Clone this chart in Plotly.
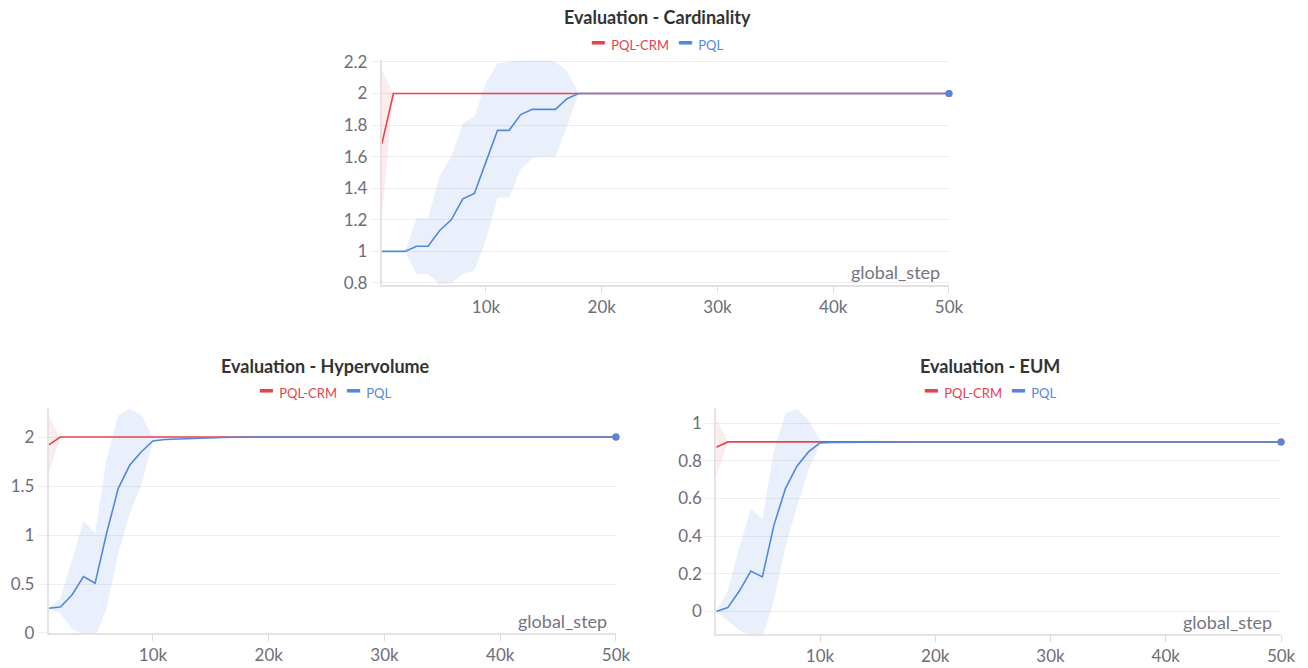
import plotly.graph_objects as go

# ---------------- data ----------------
steps = [1000, 2000, 3000, 4000, 5000, 6000, 7000, 8000, 9000, 10000,
         11000, 12000, 13000, 14000, 15000, 16000, 17000, 18000, 19000, 20000, 50000]

x_tickvals = [10000, 20000, 30000, 40000, 50000]
x_ticktext = ["10k", "20k", "30k", "40k", "50k"]

# Cardinality
crm_card = [1.68, 2, 2, 2, 2, 2, 2, 2, 2, 2, 2, 2, 2, 2, 2, 2, 2, 2, 2, 2, 2]
crm_card_hi = [2.15, 2, 2, 2, 2, 2, 2, 2, 2, 2, 2, 2, 2, 2, 2, 2, 2, 2, 2, 2, 2]
crm_card_lo = [1.21, 2, 2, 2, 2, 2, 2, 2, 2, 2, 2, 2, 2, 2, 2, 2, 2, 2, 2, 2, 2]
pql_card = [1.0, 1.0, 1.0, 1.033, 1.033, 1.133, 1.2, 1.333, 1.367, 1.567,
            1.767, 1.767, 1.867, 1.9, 1.9, 1.9, 1.967, 2.0, 2.0, 2.0, 2.0]
pql_card_hi = [1.0, 1.0, 1.0, 1.21, 1.21, 1.48, 1.6, 1.81, 1.856, 2.07,
               2.19, 2.2, 2.22, 2.23, 2.23, 2.2, 2.145, 2.0, 2.0, 2.0, 2.0]
pql_card_lo = [1.0, 1.0, 1.0, 0.855, 0.855, 0.79, 0.8, 0.855, 0.88, 1.07,
               1.34, 1.34, 1.52, 1.59, 1.6, 1.6, 1.79, 2.0, 2.0, 2.0, 2.0]
card_tickvals = [0.8, 1.0, 1.2, 1.4, 1.6, 1.8, 2.0, 2.2]
card_ticktext = ["0.8", "1", "1.2", "1.4", "1.6", "1.8", "2", "2.2"]

# Hypervolume
crm_hv = [1.92, 2, 2, 2, 2, 2, 2, 2, 2, 2, 2, 2, 2, 2, 2, 2, 2, 2, 2, 2, 2]
crm_hv_hi = [2.21, 2, 2, 2, 2, 2, 2, 2, 2, 2, 2, 2, 2, 2, 2, 2, 2, 2, 2, 2, 2]
crm_hv_lo = [1.63, 2, 2, 2, 2, 2, 2, 2, 2, 2, 2, 2, 2, 2, 2, 2, 2, 2, 2, 2, 2]
pql_hv = [0.252, 0.265, 0.388, 0.575, 0.507, 1.02, 1.476, 1.714, 1.85, 1.959,
          1.975, 1.98, 1.985, 1.99, 1.993, 1.995, 1.997, 1.998, 1.999, 2.0, 2.0]
pql_hv_hi = [0.252, 0.354, 0.745, 1.146, 1.017, 1.78, 2.22, 2.29, 2.22, 2.0,
             1.985, 1.985, 1.99, 1.993, 1.995, 1.997, 1.998, 1.999, 2.0, 2.0, 2.0]
pql_hv_lo = [0.252, 0.2, 0.04, -0.02, -0.05, 0.25, 0.81, 1.22, 1.51, 1.95,
             1.965, 1.975, 1.98, 1.987, 1.991, 1.993, 1.996, 1.997, 1.998, 2.0, 2.0]
hv_tickvals = [0, 0.5, 1.0, 1.5, 2.0]
hv_ticktext = ["0", "0.5", "1", "1.5", "2"]

# EUM
crm_eum = [0.871, 0.9, 0.9, 0.9, 0.9, 0.9, 0.9, 0.9, 0.9, 0.9, 0.9,
           0.9, 0.9, 0.9, 0.9, 0.9, 0.9, 0.9, 0.9, 0.9, 0.9]
crm_eum_hi = [1.02, 0.9, 0.9, 0.9, 0.9, 0.9, 0.9, 0.9, 0.9, 0.9, 0.9,
              0.9, 0.9, 0.9, 0.9, 0.9, 0.9, 0.9, 0.9, 0.9, 0.9]
crm_eum_lo = [0.714, 0.9, 0.9, 0.9, 0.9, 0.9, 0.9, 0.9, 0.9, 0.9, 0.9,
              0.9, 0.9, 0.9, 0.9, 0.9, 0.9, 0.9, 0.9, 0.9, 0.9]
pql_eum = [0.0, 0.02, 0.108, 0.214, 0.183, 0.457, 0.652, 0.771, 0.847, 0.895,
           0.897, 0.898, 0.899, 0.899, 0.9, 0.9, 0.9, 0.9, 0.9, 0.9, 0.9]
pql_eum_hi = [0.0, 0.11, 0.342, 0.546, 0.489, 0.856, 1.05, 1.078, 1.016, 0.91,
              0.9, 0.9, 0.9, 0.9, 0.9, 0.9, 0.9, 0.9, 0.9, 0.9, 0.9]
pql_eum_lo = [0.0, -0.048, -0.1, -0.13, -0.14, 0.058, 0.342, 0.555, 0.75, 0.89,
              0.894, 0.896, 0.898, 0.898, 0.9, 0.9, 0.9, 0.9, 0.9, 0.9, 0.9]
eum_tickvals = [0, 0.2, 0.4, 0.6, 0.8, 1.0]
eum_ticktext = ["0", "0.2", "0.4", "0.6", "0.8", "1"]

titles = ["Evaluation - Cardinality", "Evaluation - Hypervolume", "Evaluation - EUM"]
series_names = ["PQL-CRM", "PQL"]

# ---------------- style ----------------
RED = "#e8414f"
BLUE = "#5287e0"
RED_FILL = "rgba(232,65,79,0.10)"
BLUE_FILL = "rgba(82,135,224,0.12)"
FONT = "Lato"
TICK_COLOR = "#6e6e78"
GRID = "#efefef"
AXLINE = "#e3e3e3"

fig = go.Figure()

panels = [
    dict(xa="x", ya="y", crm=(crm_card, crm_card_hi, crm_card_lo),
         pql=(pql_card, pql_card_hi, pql_card_lo)),
    dict(xa="x2", ya="y2", crm=(crm_hv, crm_hv_hi, crm_hv_lo),
         pql=(pql_hv, pql_hv_hi, pql_hv_lo)),
    dict(xa="x3", ya="y3", crm=(crm_eum, crm_eum_hi, crm_eum_lo),
         pql=(pql_eum, pql_eum_hi, pql_eum_lo)),
]

for p in panels:
    for (mean, hi, lo), fill in ((p["crm"], RED_FILL), (p["pql"], BLUE_FILL)):
        fig.add_trace(go.Scatter(x=steps, y=hi, mode="lines", line=dict(width=0),
                                 xaxis=p["xa"], yaxis=p["ya"], showlegend=False,
                                 hoverinfo="skip"))
        fig.add_trace(go.Scatter(x=steps, y=lo, mode="lines", line=dict(width=0),
                                 fill="tonexty", fillcolor=fill,
                                 xaxis=p["xa"], yaxis=p["ya"], showlegend=False,
                                 hoverinfo="skip"))
    for (mean, hi, lo), col, nm in ((p["crm"], RED, series_names[0]),
                                     (p["pql"], BLUE, series_names[1])):
        fig.add_trace(go.Scatter(x=steps, y=mean, mode="lines", name=nm,
                                 line=dict(color=col, width=1.6),
                                 xaxis=p["xa"], yaxis=p["ya"], showlegend=False))
        fig.add_trace(go.Scatter(x=steps[-1:], y=mean[-1:], mode="markers",
                                 marker=dict(color=col, size=7), cliponaxis=False,
                                 xaxis=p["xa"], yaxis=p["ya"], showlegend=False,
                                 hoverinfo="skip"))

xdomains = [[0.2919, 0.7255], [0.0373, 0.4709], [0.5476, 0.9794]]
ydomains = [[0.5740, 0.9096], [0.0524, 0.3892], [0.0509, 0.3892]]
yranges = [[0.79, 2.21], [0.0, 2.296], [-0.12, 1.08]]
ytv = [(card_tickvals, card_ticktext), (hv_tickvals, hv_ticktext), (eum_tickvals, eum_ticktext)]

layout = dict(
    width=1308, height=668,
    margin=dict(l=0, r=0, t=0, b=0, autoexpand=False),
    paper_bgcolor="white", plot_bgcolor="white",
    font=dict(family=FONT, color=TICK_COLOR),
    showlegend=False,
)
for i in range(3):
    sfx = "" if i == 0 else str(i + 1)
    layout["xaxis" + sfx] = dict(
        domain=xdomains[i], anchor="y" + sfx, range=[1000, 50000],
        tickvals=x_tickvals, ticktext=x_ticktext,
        showgrid=False, zeroline=False, showline=True, linecolor=AXLINE, linewidth=2,
        ticks="outside", ticklen=6, tickcolor="#dcdcdc", tickwidth=1,
        tickfont=dict(size=17, color=TICK_COLOR, family=FONT),
    )
    layout["yaxis" + sfx] = dict(
        domain=ydomains[i], anchor="x" + sfx, range=yranges[i],
        tickvals=ytv[i][0], ticktext=ytv[i][1],
        showgrid=True, gridcolor=GRID, gridwidth=1, zeroline=False,
        showline=True, linecolor=AXLINE, linewidth=2,
        ticks="outside", ticklen=9, tickcolor=GRID, tickwidth=1,
        tickfont=dict(size=17, color=TICK_COLOR, family=FONT),
    )
fig.update_layout(**layout)

# titles, legends, axis-title annotations
title_pos = [(657, 17), (325, 366), (990, 366)]
legend_pos = [(657, 43), (325, 391), (990, 391)]
for i in range(3):
    sfx = "" if i == 0 else str(i + 1)
    tx, ty = title_pos[i]
    fig.add_annotation(xref="paper", yref="paper", x=tx / 1308, y=1 - ty / 668,
                       xanchor="center", yanchor="middle", showarrow=False,
                       text="<b>" + titles[i] + "</b>",
                       font=dict(family=FONT, size=18, color="#333333"))
    lx, ly = legend_pos[i]
    leg = ('<span style="color:%s;font-family:DejaVu Sans Mono;font-size:21px">━</span>'
           '<span style="color:%s">  %s</span>   '
           '<span style="color:%s;font-family:DejaVu Sans Mono;font-size:21px">━</span>'
           '<span style="color:%s">  %s</span>') % (RED, RED, series_names[0], BLUE, BLUE, series_names[1])
    fig.add_annotation(xref="paper", yref="paper", x=lx / 1308, y=1 - ly / 668,
                       xanchor="center", yanchor="middle", showarrow=False,
                       text=leg, font=dict(family=FONT, size=13))
    fig.add_annotation(xref="x" + sfx + " domain", yref="y" + sfx + " domain",
                       x=0.988, y=0.055, xanchor="right", yanchor="middle",
                       showarrow=False, text="global_step",
                       font=dict(family=FONT, size=18, color="#75757f"))

fig.write_html("out.html")
